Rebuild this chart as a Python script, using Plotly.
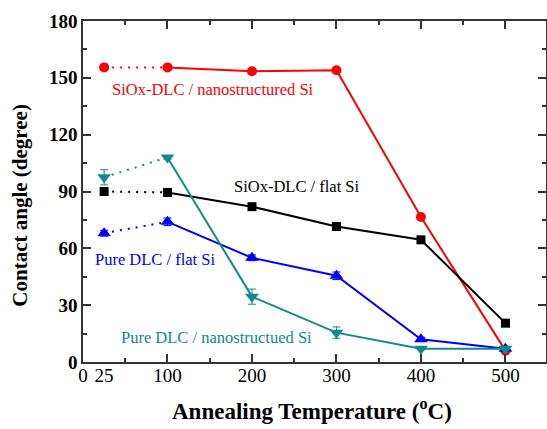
import plotly.graph_objects as go

temps = [25, 100, 200, 300, 400, 500]
siox_nano = [155.5, 155.5, 153.5, 154.0, 76.5, 6.0]
siox_nano_err = [0.8, 0.8, 0.8, 0.8, 1.0, 1.0]
siox_flat = [90.0, 89.5, 82.0, 71.5, 64.5, 20.5]
siox_flat_err = [0.5, 0.5, 0.8, 0.8, 1.0, 0.5]
pure_flat = [68.0, 74.0, 55.0, 45.5, 12.0, 7.0]
pure_flat_err = [1.5, 2.0, 1.5, 2.0, 1.0, 1.0]
pure_nano = [97.5, 108.0, 34.5, 15.5, 7.0, 7.0]
pure_nano_err = [4.0, 1.0, 4.0, 3.0, 0.5, 0.5]

tick_vals = [0, 25, 100, 200, 300, 400, 500]
tick_text = ["0", "25", "100", "200", "300", "400", "500"]

series = [
    ("SiOx-DLC / nanostructured Si", siox_nano, siox_nano_err, "#ff0000", "circle", 10),
    ("SiOx-DLC / flat Si", siox_flat, siox_flat_err, "#000000", "square", 9),
    ("Pure DLC / flat Si", pure_flat, pure_flat_err, "#0000ff", "triangle-up", 12),
    ("Pure DLC / nanostructued Si", pure_nano, pure_nano_err, "#118a8a", "triangle-down", 12),
]
labels = [
    (154, 143.6, "SiOx-DLC / nanostructured Si", "#ff0000"),
    (253, 92.6, "SiOx-DLC / flat Si", "#000000"),
    (85, 53.9, "Pure DLC / flat Si", "#0000ff"),
    (158, 12.7, "Pure DLC / nanostructued Si", "#118a8a"),
]

fig = go.Figure()
for name, ys, errs, col, sym, msize in series:
    fig.add_trace(go.Scatter(x=temps[:2], y=ys[:2], mode="lines",
                             line=dict(color=col, width=2, dash="2px,6px"),
                             showlegend=False, hoverinfo="skip"))
    fig.add_trace(go.Scatter(x=temps[1:], y=ys[1:], mode="lines",
                             line=dict(color=col, width=2),
                             showlegend=False))
    fig.add_trace(go.Scatter(x=temps, y=ys, mode="markers", name=name,
                             marker=dict(color=col, symbol=sym, size=msize),
                             error_y=dict(type="data", array=errs, color=col,
                                          thickness=1, width=4),
                             showlegend=False))

# invisible trace on label axis
fig.add_trace(go.Scatter(x=[0], y=[0], xaxis="x2", mode="markers",
                         marker=dict(opacity=0), showlegend=False, hoverinfo="skip"))

for x, y, t, c in labels:
    fig.add_annotation(x=x, y=y, text=t, showarrow=False,
                       font=dict(family="Liberation Serif", size=16.5, color=c))

fig.add_annotation(xref="paper", yref="paper", x=0.495, y=-0.14,
                   xanchor="center", yanchor="middle", showarrow=False,
                   text="<b>Annealing Temperature (<sup>o</sup>C)</b>",
                   font=dict(family="Liberation Serif", size=23, color="black"))
fig.add_annotation(xref="paper", yref="paper", x=-0.135, y=0.46,
                   xanchor="center", yanchor="middle", showarrow=False,
                   textangle=-90,
                   text="<b>Contact angle (degree)</b>",
                   font=dict(family="Liberation Serif", size=21, color="black"))

xr = [0, 548]
fig.update_layout(
    width=547, height=429,
    margin=dict(l=83, r=1, t=21, b=67, autoexpand=False),
    plot_bgcolor="white", paper_bgcolor="white",
    font=dict(family="Liberation Serif", color="black"),
    xaxis=dict(range=xr, showgrid=False, zeroline=False, automargin=False,
               showline=True, linecolor="#333333", linewidth=1.5, mirror="ticks",
               ticks="inside", tickvals=[0, 100, 200, 300, 400, 500], ticklen=8,
               tickwidth=1.5, tickcolor="#333333", showticklabels=False,
               minor=dict(dtick=50, tick0=0, ticks="inside", ticklen=4,
                          tickwidth=1.5, tickcolor="#333333")),
    xaxis2=dict(range=xr, overlaying="x", side="bottom", showgrid=False,
                zeroline=False, showline=False, ticks="", automargin=False,
                tickvals=tick_vals, ticktext=tick_text,
                tickfont=dict(size=19, family="Liberation Serif"),
                tickprefix="<b>", ticksuffix="</b>"),
    yaxis=dict(range=[0, 180], showgrid=False, zeroline=False, automargin=False,
               showline=True, linecolor="#333333", linewidth=1.5, mirror="ticks",
               ticks="inside", dtick=30, ticklen=8, tickwidth=1.5,
               tickcolor="#333333",
               minor=dict(dtick=15, ticks="inside", ticklen=4, tickwidth=1.5,
                          tickcolor="#333333"),
               tickfont=dict(size=19), tickprefix="<b>", ticksuffix="</b>"),
)

fig.write_html("out.html", config={"displayModeBar": False},
               post_script="document.body.style.margin='0';document.body.style.overflow='hidden';")
